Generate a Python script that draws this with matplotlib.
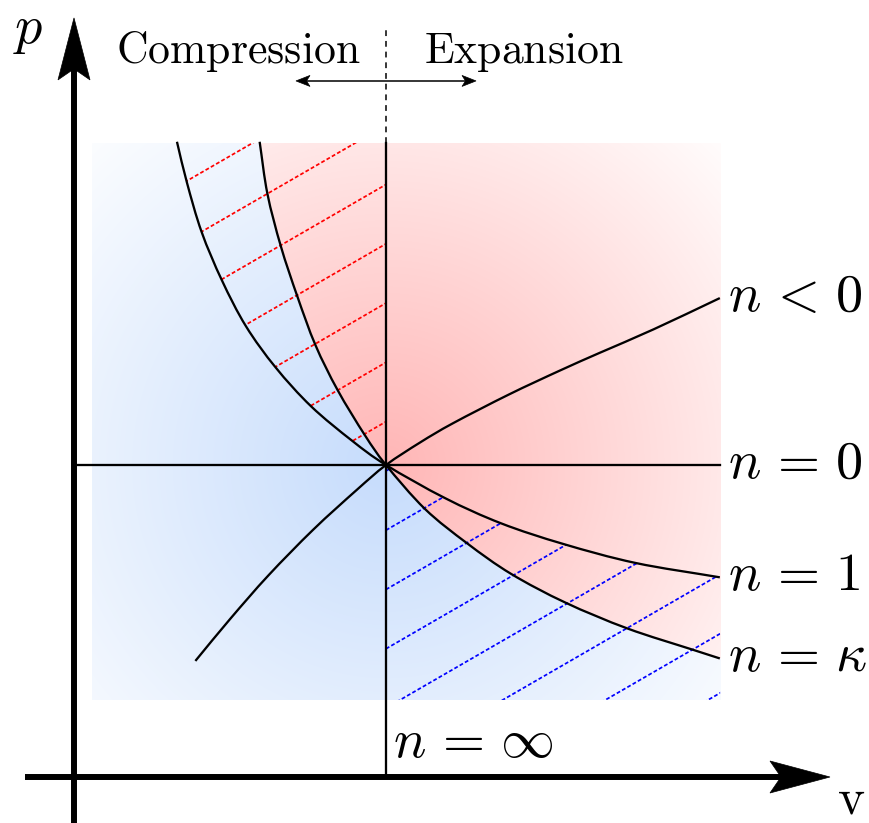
import numpy as np
import matplotlib
matplotlib.use("Agg")
import matplotlib.pyplot as plt
from matplotlib.path import Path
from matplotlib.patches import PathPatch, Polygon

plt.rcParams["mathtext.fontset"] = "cm"

# ---- data (v, p in units where the reference state is v = p = 1) ----
n1_v = [0.330, 0.362, 0.409, 0.474, 0.551, 0.646, 0.760, 0.891, 1.000,
        1.189, 1.369, 1.568, 1.800, 2.070]
n1_p = [2.036, 1.905, 1.747, 1.592, 1.445, 1.313, 1.188, 1.078, 1.000,
        0.894, 0.813, 0.747, 0.686, 0.640]

kap_v = [0.595, 0.620, 0.663, 0.716, 0.774, 0.845, 0.932, 1.000,
         1.125, 1.260, 1.401, 1.575, 1.774, 1.980, 2.070]
kap_p = [2.036, 1.869, 1.701, 1.540, 1.384, 1.240, 1.096, 1.000,
         0.859, 0.749, 0.651, 0.559, 0.476, 0.409, 0.380]

neg_v = [0.389, 0.500, 0.623, 0.767, 0.906, 1.000, 1.109, 1.215, 1.394,
         1.558, 1.686, 1.858, 2.070]
neg_p = [0.372, 0.506, 0.646, 0.793, 0.920, 1.000, 1.072, 1.134, 1.226,
         1.303, 1.360, 1.435, 1.535]

ref_v, ref_p = 1.0, 1.0
region_v = [0.058, 2.071]
region_p = [0.247, 2.032]

sp = r"\hspace{0.15}"
curve_labels = [rf"$n{sp}<{sp}0$", rf"$n{sp}={sp}0$", rf"$n{sp}={sp}1$",
                rf"$n{sp}={sp}\kappa$"]
inf_label = rf"$n{sp}={sp}\infty$"
hatch_step = 0.19
red_hatch_start = 1.139
blue_hatch_start = 0.791

# ---- figure ----
fig = plt.figure(figsize=(8.69, 8.23), dpi=100)
ax = fig.add_axes([0, 0, 1, 1])
ax.set_xlim(-74 / 312, 795 / 312)
ax.set_ylim(-46 / 312, 777 / 312)
ax.axis("off")


def bezier_segments(xs, ys):
    """Catmull-Rom segments (start, c1, c2, end) through the given points."""
    pts = np.column_stack([xs, ys]).astype(float)
    ext = np.vstack([2 * pts[0] - pts[1], pts, 2 * pts[-1] - pts[-2]])
    segs = []
    for i in range(len(pts) - 1):
        q0, q1, q2, q3 = ext[i], ext[i + 1], ext[i + 2], ext[i + 3]
        segs.append((q1, q1 + (q2 - q0) / 6, q2 - (q3 - q1) / 6, q2))
    return segs


def seg_path(segs, extra=(), close=False):
    verts = [segs[0][0]]
    codes = [Path.MOVETO]
    for s in segs:
        verts += [s[1], s[2], s[3]]
        codes += [Path.CURVE4] * 3
    for e in extra:
        verts.append(e)
        codes.append(Path.LINETO)
    if close:
        verts.append(verts[0])
        codes.append(Path.CLOSEPOLY)
    return Path(np.array(verts), codes)


seg_n1 = bezier_segments(n1_v, n1_p)
seg_k = bezier_segments(kap_v, kap_p)
seg_neg = bezier_segments(neg_v, neg_p)
i1 = n1_v.index(ref_v)

# ---- shaded background: blue below the kappa curve, red above ----
nx, ny = 640, 570
gv = np.linspace(region_v[0], region_v[1], nx)
gp = np.linspace(region_p[1], region_p[0], ny)
V, P = np.meshgrid(gv, gp)
r = np.hypot(V - ref_v, P - ref_p)


def radial(inner, radius):
    t = np.clip(r / radius, 0, 1)[..., None]
    inner = np.array(inner) / 255.0
    return inner * (1 - t) + np.ones(3) * t


ext = [region_v[0], region_v[1], region_p[0], region_p[1]]
ax.imshow(radial((198, 220, 252), 1.5), extent=ext, origin="upper",
          interpolation="bilinear", zorder=1, aspect="auto")
red_clip = PathPatch(seg_path(seg_k, extra=[(2.2, 0.38), (2.2, 2.2), (0.595, 2.2)],
                              close=True), transform=ax.transData)
im_red = ax.imshow(radial((255, 182, 182), 1.55), extent=ext, origin="upper",
                   interpolation="bilinear", zorder=1.1, aspect="auto")
im_red.set_clip_path(red_clip)

# ---- hatching ----
slope = np.tan(np.radians(30))
red_zone = PathPatch(seg_path(seg_n1[:i1],
                              extra=[(ref_v, region_p[1]), (n1_v[0], region_p[1])],
                              close=True), transform=ax.transData)
blue_zone = PathPatch(seg_path(seg_n1[i1:],
                               extra=[(region_v[1], n1_p[-1]), (region_v[1], region_p[0]),
                                      (ref_v, region_p[0])], close=True),
                      transform=ax.transData)
dash = (0, (2.2, 1.3))
for k in range(9):
    c = red_hatch_start + k * hatch_step
    ln, = ax.plot([0, ref_v], [c - slope * ref_v, c], color="#ff0000", lw=1.25,
                  ls=dash, zorder=2)
    ln.set_clip_path(red_zone)
for k in range(-1, 9):
    c = blue_hatch_start - k * hatch_step
    ln, = ax.plot([ref_v, 2.2], [c, c + slope * (2.2 - ref_v)], color="#0000ff", lw=1.25,
                  ls=dash, zorder=2)
    ln.set_clip_path(blue_zone)

# ---- process curves ----
for segs in (seg_n1, seg_k, seg_neg):
    ax.add_patch(PathPatch(seg_path(segs), fill=False, ec="black", lw=1.65,
                           joinstyle="round", zorder=3))
ax.plot([0, region_v[1]], [ref_p, ref_p], color="black", lw=1.65, zorder=3)
ax.plot([ref_v, ref_v], [0, region_p[1]], color="black", lw=1.65, zorder=3)
ax.plot([ref_v, ref_v], [region_p[1], 2.394], color="black", lw=1.1,
        ls=(0, (3.8, 3.2)), zorder=3)


def stealth(tip, direction, length, half, notch):
    d = np.array(direction, float)
    d /= np.hypot(*d)
    nrm = np.array([-d[1], d[0]])
    tip = np.array(tip, float)
    back = tip - d * length
    pts = [tip, back + nrm * half, tip - d * (length - notch), back - nrm * half]
    ax.add_patch(Polygon(pts, closed=True, fc="black", ec="black", lw=0.5, zorder=4))
    return tip - d * (length - notch)


# axes with arrow heads
s = 1 / 312
base = stealth((0, 2.433), (0, 1), 62 * s, 16 * s, 11 * s)
ax.plot([0, 0], [-0.2, base[1] + 0.01], color="black", lw=4.3, zorder=4,
        solid_capstyle="butt")
base = stealth((2.423, 0), (1, 0), 60 * s, 16 * s, 11 * s)
ax.plot([-0.157, base[0] + 0.01], [0, 0], color="black", lw=4.3, zorder=4,
        solid_capstyle="butt")

# compression / expansion arrow
ya = 2.231
lt = stealth((ref_v - 0.2885, ya), (-1, 0), 14 * s, 5.5 * s, 3.5 * s)
rt = stealth((ref_v + 0.2885, ya), (1, 0), 14 * s, 5.5 * s, 3.5 * s)
ax.plot([lt[0], rt[0]], [ya, ya], color="black", lw=1.1, zorder=4)

# ---- text ----
ax.text(0.920, 2.2885, r"$\mathrm{Compression}$", fontsize=31.5, ha="right",
        va="baseline", zorder=5)
ax.text(1.122, 2.2885, r"$\mathrm{Expansion}$", fontsize=31.5, ha="left",
        va="baseline", zorder=5)

ends_p = [neg_p[-1], ref_p, n1_p[-1], kap_p[-1]]
for lab, pe in zip(curve_labels, ends_p):
    ax.text(2.097, pe + 0.008, lab, fontsize=39, ha="left", va="center", zorder=5)
ax.text(1.022, 0.0641, inf_label, fontsize=39, ha="left", va="baseline", zorder=5)
ax.text(-0.1474, 2.3526, r"$p$", fontsize=39, ha="center", va="baseline", zorder=5)
ax.text(2.4904, -0.072, r"$\mathrm{v}$", fontsize=37, ha="center", va="center",
        zorder=5)

fig.savefig("out.png", dpi=100)
